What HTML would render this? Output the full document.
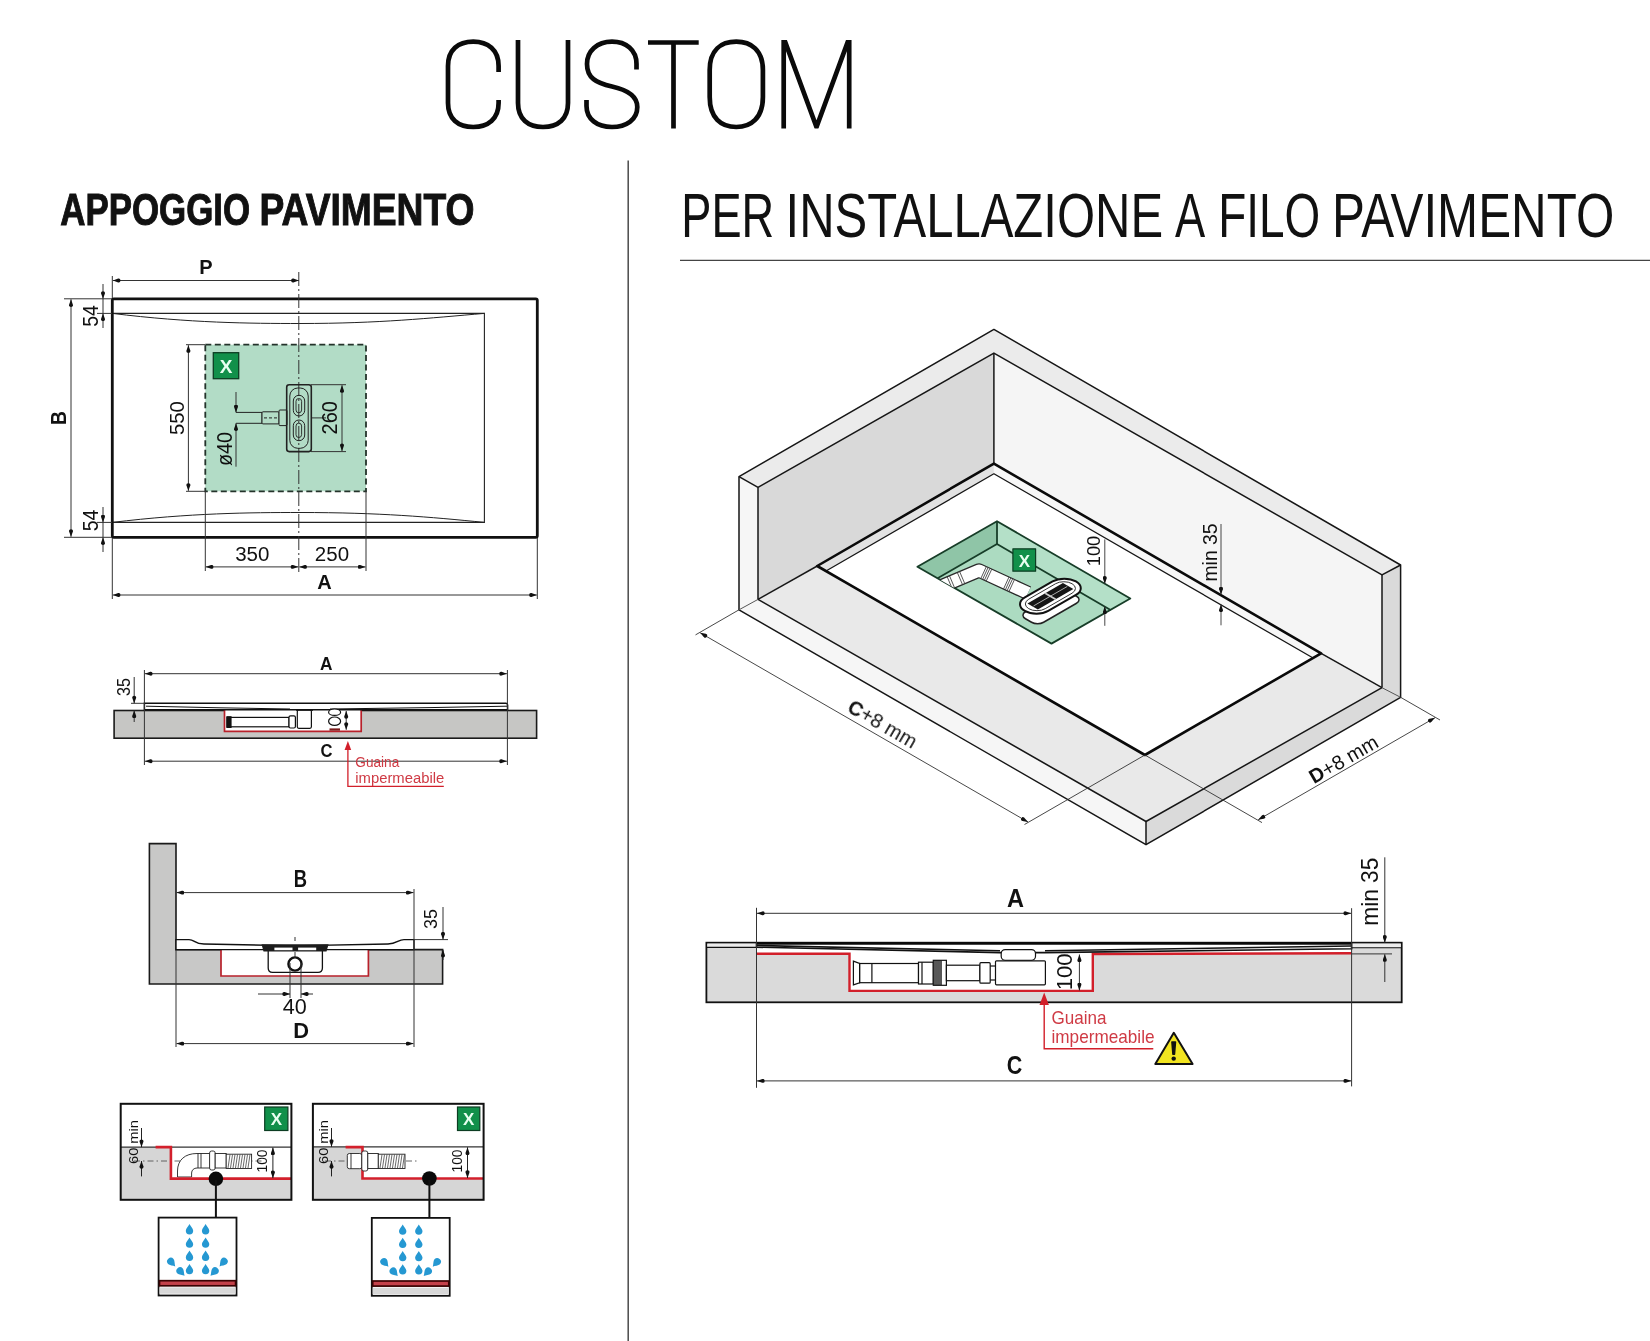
<!DOCTYPE html>
<html><head><meta charset="utf-8"><style>
html,body{margin:0;padding:0;background:#fff;}
body{width:1650px;height:1341px;overflow:hidden;}
svg{display:block;font-family:"Liberation Sans",sans-serif;will-change:transform;}
</style></head><body>
<svg width="1650" height="1341" viewBox="0 0 1650 1341">
<defs>
<marker id="ar" viewBox="0 0 10 6" refX="10" refY="3" markerWidth="8" markerHeight="4.6" markerUnits="userSpaceOnUse" orient="auto-start-reverse"><path d="M10,3 L3,0.5 Q0,0 0,3 Q0,6 3,5.5 Z" fill="#111"/></marker>
<marker id="arR" viewBox="0 0 10 6" refX="10" refY="3" markerWidth="9" markerHeight="6" markerUnits="userSpaceOnUse" orient="auto-start-reverse"><path d="M0,0 L10,3 L0,6 z" fill="#d21f2a"/></marker>
<clipPath id="recclip"><polygon points="997,521.2 1130.3,598.5 1051.5,643.6 917.4,566.7"/></clipPath>
<clipPath id="mclip"><rect x="770" y="40" width="100" height="88.4"/></clipPath>
</defs>

<!-- CUSTOM title -->
<g fill="none" stroke="#0a0a0a" stroke-width="4.7">
<path d="M498.6,72 L498.6,66 C498.6,50 488,41.7 473.3,41.7 C458,41.7 448,50 448,66 L448,103 C448,119 458,127 473.3,127 C488,127 498.6,119 498.6,103 L498.6,100"/>
<path d="M518,40 L518,103 C518,119 528,127 543,127 C558,127 568,119 568,103 L568,40"/>
<path d="M636.5,69.5 L636.5,64 C636.5,50 626,41.7 612,41.7 C597,41.7 587,51 587,64 C587,78 596,83 612,86.5 C628,90 637.3,96 637.3,107 C637.3,120 626,127 612,127 C597,127 586.5,119 586.5,106 L586.5,100"/>
<path d="M648,42.5 L698.7,42.5 M673.5,42.5 L673.5,128.4"/>
<path d="M736.3,41.7 C751,41.7 762.9,50 762.9,70 L762.9,97 C762.9,118 751,127 736.3,127 C721,127 709.7,118 709.7,97 L709.7,70 C709.7,50 721,41.7 736.3,41.7 Z"/>
<path clip-path="url(#mclip)" stroke-linejoin="miter" stroke-miterlimit="20" d="M783.7,129 L783.7,38 L816.5,127 L849.2,38 L849.2,129"/>
</g>

<!-- divider -->
<line x1="628.2" y1="160.5" x2="628.2" y2="1341" stroke="#4a4a4a" stroke-width="1.5"/>

<!-- left heading -->
<g font-size="44.8" font-weight="bold" fill="#111" stroke="#111" stroke-width="1" ><text x="60.23" y="224.9" textLength="189.93" lengthAdjust="spacingAndGlyphs">APPOGGIO</text><text x="259.48" y="224.9" textLength="215.04" lengthAdjust="spacingAndGlyphs">PAVIMENTO</text></g>

<!-- right heading -->
<g font-size="62.8" fill="#111" ><text x="681.3" y="236.7" textLength="92.8" lengthAdjust="spacingAndGlyphs">PER</text><text x="785.52" y="236.7" textLength="377.56" lengthAdjust="spacingAndGlyphs">INSTALLAZIONE</text><text x="1174.91" y="236.7" textLength="30.18" lengthAdjust="spacingAndGlyphs">A</text><text x="1218.24" y="236.7" textLength="101.96" lengthAdjust="spacingAndGlyphs">FILO</text><text x="1332.07" y="236.7" textLength="282.22" lengthAdjust="spacingAndGlyphs">PAVIMENTO</text></g>
<line x1="680" y1="260.3" x2="1650" y2="260.3" stroke="#444" stroke-width="1.3"/>


<!-- ============ PLAN VIEW ============ -->
<g id="plan">
<rect x="205.3" y="344.7" width="160.7" height="146.6" fill="#b2dcc6"/>
<path d="M112.3,313.4 C190,323 250,323.5 300,323.5 C380,323.5 430,318 484.4,313.4" fill="none" stroke="#222" stroke-width="1"/>
<path d="M112.3,522.4 C190,513 250,512.5 300,512.5 C380,512.5 430,517 484.4,522.4" fill="none" stroke="#222" stroke-width="1"/>
<path d="M112.3,313.4 L484.4,313.4 L484.4,522.4 L112.3,522.4" fill="none" stroke="#222" stroke-width="1.1"/>
<rect x="205.3" y="344.7" width="160.7" height="146.6" fill="none" stroke="#24332b" stroke-width="1.8" stroke-dasharray="6 3.5"/>
<rect x="112.3" y="298.8" width="425" height="238.5" rx="1.5" fill="none" stroke="#111" stroke-width="2.8"/>
<!-- centerline -->
<line x1="298.8" y1="272" x2="298.8" y2="572" stroke="#333" stroke-width="1" stroke-dasharray="14 3 2 3"/>
<g stroke="#333" stroke-width="1" fill="none">
<!-- P -->
<line x1="112.3" y1="276" x2="112.3" y2="298"/>
<line x1="112.8" y1="280.5" x2="298.8" y2="280.5" marker-start="url(#ar)" marker-end="url(#ar)"/>
<!-- B -->
<line x1="64" y1="298.8" x2="112" y2="298.8"/>
<line x1="64" y1="537.3" x2="112" y2="537.3"/>
<line x1="71" y1="299.3" x2="71" y2="536.8" marker-start="url(#ar)" marker-end="url(#ar)"/>
<!-- 54 top -->
<line x1="97" y1="313.4" x2="112" y2="313.4"/>
<line x1="103" y1="284" x2="103" y2="298.8" marker-end="url(#ar)"/>
<line x1="103" y1="328" x2="103" y2="313.4" marker-end="url(#ar)"/>
<line x1="103" y1="298.8" x2="103" y2="313.4"/>
<!-- 54 bottom -->
<line x1="97" y1="522.4" x2="112" y2="522.4"/>
<line x1="103" y1="507" x2="103" y2="522.4" marker-end="url(#ar)"/>
<line x1="103" y1="552" x2="103" y2="537.3" marker-end="url(#ar)"/>
<line x1="103" y1="522.4" x2="103" y2="537.3"/>
<!-- 550 -->
<line x1="186" y1="344.7" x2="205" y2="344.7"/>
<line x1="186" y1="491.3" x2="205" y2="491.3"/>
<line x1="188.4" y1="345.2" x2="188.4" y2="490.8" marker-start="url(#ar)" marker-end="url(#ar)"/>
<!-- 260 -->
<line x1="311" y1="384.7" x2="346" y2="384.7"/>
<line x1="311" y1="451.6" x2="346" y2="451.6"/>
<line x1="342" y1="385.2" x2="342" y2="451.1" marker-start="url(#ar)" marker-end="url(#ar)"/>
<!-- ø40 -->
<line x1="236" y1="392" x2="236" y2="412.4" marker-end="url(#ar)"/>
<line x1="236" y1="466.7" x2="236" y2="423.3" marker-end="url(#ar)"/>
<!-- 350 / 250 -->
<line x1="205.3" y1="491" x2="205.3" y2="571"/>
<line x1="366" y1="491" x2="366" y2="571"/>
<line x1="205.8" y1="566.9" x2="298.3" y2="566.9" marker-start="url(#ar)" marker-end="url(#ar)"/>
<line x1="299.3" y1="566.9" x2="365.5" y2="566.9" marker-start="url(#ar)" marker-end="url(#ar)"/>
<!-- A -->
<line x1="112.3" y1="538" x2="112.3" y2="599"/>
<line x1="537.3" y1="538" x2="537.3" y2="599"/>
<line x1="112.8" y1="595" x2="536.8" y2="595" marker-start="url(#ar)" marker-end="url(#ar)"/>
</g>
<!-- pipe -->
<g stroke="#222" stroke-width="1" fill="#b2dcc6">
<path d="M236,412.4 L262,412.4 L262,423.3 L236,423.3"/>
<rect x="262" y="411.8" width="17" height="12.1" rx="1"/>
<rect x="279" y="410" width="8" height="15.6" rx="1"/>
<line x1="264" y1="417.9" x2="278" y2="417.9" stroke-dasharray="3 2"/>
</g>
<!-- drain -->
<g stroke="#222" fill="none">
<rect x="286.7" y="384.7" width="24.6" height="66.9" rx="2.5" stroke-width="1.6"/>
<rect x="289.8" y="388" width="18.4" height="60.3" rx="8" stroke-width="1"/>
<rect x="293.3" y="395.3" width="11.4" height="20.7" rx="5.7" stroke-width="1"/>
<rect x="293.3" y="420" width="11.4" height="20.7" rx="5.7" stroke-width="1"/>
<rect x="296" y="398.5" width="5.6" height="14.3" rx="2.8" stroke-width="0.9"/>
<rect x="296" y="423.2" width="5.6" height="14.3" rx="2.8" stroke-width="0.9"/>
<line x1="311" y1="417.9" x2="326" y2="417.9" stroke-width="0.9"/>
</g>
<!-- X box -->
<rect x="213.3" y="352.7" width="25.4" height="26" fill="#11904a" stroke="#0c3d22" stroke-width="1.3"/>
<text x="226" y="372.5" font-size="19" font-weight="bold" fill="#e8fff0" text-anchor="middle">X</text>
<!-- texts -->
<g fill="#111" font-size="20" text-anchor="middle">
<text x="206" y="273.8" font-weight="bold">P</text>
<text x="324.5" y="589" font-weight="bold">A</text>
<text transform="translate(65.6,417.9) rotate(-90)" font-weight="bold" font-size="22.5" textLength="14" lengthAdjust="spacingAndGlyphs">B</text>
<text x="252.3" y="560.8" font-size="20.5" textLength="34.3">350</text>
<text x="332" y="560.8" font-size="20.5" textLength="34.3">250</text>
<text transform="translate(184,418.2) rotate(-90)" font-size="21" textLength="33.7" lengthAdjust="spacingAndGlyphs">550</text>
<text transform="translate(337,417.8) rotate(-90)" font-size="21.3" textLength="33.4" lengthAdjust="spacingAndGlyphs">260</text>
<text transform="translate(232.2,449) rotate(-90)" font-size="22" textLength="34" lengthAdjust="spacingAndGlyphs">ø40</text>
<text transform="translate(98,316) rotate(-90)" font-size="21.5" textLength="21.7" lengthAdjust="spacingAndGlyphs">54</text>
<text transform="translate(98,520.4) rotate(-90)" font-size="21.5" textLength="21.7" lengthAdjust="spacingAndGlyphs">54</text>
</g>
</g>


<!-- ============ SECTION A/C ============ -->
<g id="secAC">
<rect x="114.1" y="710.5" width="422.5" height="27.7" fill="#c6c6c4" stroke="#1a1a1a" stroke-width="1.6"/>
<rect x="224.5" y="709.8" width="136.7" height="21.5" fill="#fff"/>
<path d="M224.5,709.5 L224.5,731.3 L361.2,731.3 L361.2,709.5" fill="none" stroke="#b8212b" stroke-width="1.7"/>
<!-- tray -->
<path d="M144.4,703.3 L506,703.3 Q507.6,703.4 507.6,705 L507.6,709.8 L144.4,709.8 Z" fill="#fff" stroke="#111" stroke-width="1.5"/>
<path d="M146,706.2 L220,707.8 L290,709 M507,706.2 L430,707.6 L330,709" fill="none" stroke="#111" stroke-width="1"/>
<!-- pipe -->
<g stroke="#111" fill="#fff" stroke-width="1.2">
<rect x="227" y="717.4" width="62" height="9.4"/>
<rect x="227" y="716.8" width="4" height="10.6" fill="#111"/>
<rect x="289" y="715.8" width="6.4" height="12.2" rx="1.5"/>
<rect x="297.3" y="710" width="14.1" height="18.3" rx="1.5"/>
<path d="M296,710 L313,710" stroke-width="1.6"/>
<ellipse cx="334.6" cy="712.2" rx="6" ry="3.2"/>
<ellipse cx="334.6" cy="721.2" rx="6" ry="4.2"/>
</g>
<rect x="329.5" y="728.4" width="10.5" height="2.2" fill="#7a1a1a"/>
<g stroke="#333" stroke-width="1" fill="none">
<line x1="144.4" y1="670" x2="144.4" y2="765"/>
<line x1="507.4" y1="670" x2="507.4" y2="765"/>
<line x1="144.9" y1="673.7" x2="506.9" y2="673.7" marker-start="url(#ar)" marker-end="url(#ar)"/>
<line x1="144.9" y1="761.2" x2="506.9" y2="761.2" marker-start="url(#ar)" marker-end="url(#ar)"/>
<!-- 35 -->
<line x1="131" y1="703.3" x2="144" y2="703.3"/>
<line x1="134.2" y1="677" x2="134.2" y2="703.3" marker-end="url(#ar)"/>
<line x1="134.2" y1="722" x2="134.2" y2="710.5" marker-end="url(#ar)"/>
<!-- 100 -->
<line x1="346.2" y1="711" x2="346.2" y2="729.8" marker-start="url(#ar)" marker-end="url(#ar)"/>
</g>
<g fill="#111" font-size="20" text-anchor="middle">
<text x="326.2" y="670.3" font-weight="bold" font-size="18.5" textLength="12.5" lengthAdjust="spacingAndGlyphs">A</text>
<text x="326.5" y="757.4" font-weight="bold" font-size="19" textLength="12" lengthAdjust="spacingAndGlyphs">C</text>
<text transform="translate(130,687) rotate(-90)" font-size="19" textLength="18" lengthAdjust="spacingAndGlyphs">35</text>
</g>
<!-- guaina -->
<path d="M347.9,748 L347.9,786.4 L443.8,786.4" fill="none" stroke="#d21f2a" stroke-width="1.3"/>
<path d="M347.9,741 L344.6,750 L351.2,750 Z" fill="#d21f2a"/>
<g fill="#cf3a44" font-size="15.5">
<text x="355.3" y="767" textLength="44" lengthAdjust="spacingAndGlyphs">Guaina</text>
<text x="355.3" y="783" textLength="89" lengthAdjust="spacingAndGlyphs">impermeabile</text>
</g>
</g>

<!-- ============ SECTION B/D ============ -->
<g id="secBD">
<path d="M149.4,843.6 L176,843.6 L176,949.6 L442.6,949.6 L442.6,984 L149.4,984 Z" fill="#c8c8c7" stroke="#1a1a1a" stroke-width="1.6"/>
<rect x="221" y="949.6" width="147.4" height="26.4" fill="#fff"/>
<path d="M221,949.6 L221,976 L368.4,976 L368.4,949.6" fill="none" stroke="#b8212b" stroke-width="1.7"/>
<path d="M176,939.6 L189,939.6 C195,939.6 194,944 204,944 L286,945.6 L304,945.6 L388,944 C397,944 398,939.6 404,939.6 L414,939.6 L414,949.6 L176,949.6 Z" fill="#fff" stroke="#111" stroke-width="1.4"/>
<!-- drain -->
<path d="M268.2,950 L268.2,968 Q268.2,972.3 272.5,972.3 L318,972.3 Q322.4,972.3 322.4,968 L322.4,950" fill="#fff" stroke="#111" stroke-width="1.3"/>
<path d="M261.5,944.3 L328.6,944.3 L326.5,951.5 L263.5,951.5 Z" fill="#1c1c1c"/>
<rect x="274.4" y="947.6" width="18.1" height="2.6" fill="#fff"/>
<rect x="298.1" y="947.6" width="18.1" height="2.6" fill="#fff"/>
<circle cx="295" cy="964" r="6.6" fill="#fff" stroke="#111" stroke-width="2.4"/>
<g stroke="#333" stroke-width="1" fill="none">
<line x1="295" y1="937" x2="295" y2="941"/><line x1="295" y1="952" x2="295" y2="958"/>
<line x1="290" y1="963" x2="290" y2="998"/>
<line x1="301" y1="963" x2="301" y2="998"/>
<line x1="258" y1="994" x2="290" y2="994" marker-end="url(#ar)"/>
<line x1="313" y1="994" x2="301" y2="994" marker-end="url(#ar)"/>
<line x1="414" y1="889" x2="414" y2="1047"/>
<line x1="176" y1="950" x2="176" y2="1047"/>
<line x1="176.5" y1="892.6" x2="413.5" y2="892.6" marker-start="url(#ar)" marker-end="url(#ar)"/>
<line x1="176.5" y1="1043.6" x2="413.5" y2="1043.6" marker-start="url(#ar)" marker-end="url(#ar)"/>
<line x1="414" y1="939.6" x2="448" y2="939.6"/>
<line x1="443" y1="907" x2="443" y2="939.6" marker-end="url(#ar)"/>
<line x1="443" y1="960" x2="443" y2="949.8" marker-end="url(#ar)"/>
</g>
<g fill="#111" font-size="20" text-anchor="middle">
<text x="300.5" y="887.4" font-weight="bold" font-size="23" textLength="13.3" lengthAdjust="spacingAndGlyphs">B</text>
<text x="301.1" y="1038.4" font-weight="bold" font-size="22.5" textLength="15.8" lengthAdjust="spacingAndGlyphs">D</text>
<text x="294.7" y="1013.5" font-size="21.5" textLength="24" lengthAdjust="spacingAndGlyphs">40</text>
<text transform="translate(437,919) rotate(-90)" font-size="19" textLength="20" lengthAdjust="spacingAndGlyphs">35</text>
</g>
</g>


<!-- ============ SMALL DIAGRAMS ============ -->
<g id="small1">
<rect x="120.7" y="1103.8" width="170.7" height="96" fill="#fff"/>
<path d="M120.7,1147.1 L170.9,1147.1 L170.9,1178.6 L291.4,1178.6 L291.4,1199.8 L120.7,1199.8 Z" fill="#d6d6d6"/>
<line x1="120.7" y1="1147.1" x2="291.4" y2="1147.1" stroke="#333" stroke-width="1.3"/>
<line x1="134" y1="1161" x2="262" y2="1161" stroke="#555" stroke-width="0.9" stroke-dasharray="6 3 1.5 3"/>
<!-- elbow fitting -->
<g stroke="#222" stroke-width="0.9" fill="#fff">
<path d="M177.5,1177 L177.5,1171 C177.5,1160 185,1153.5 197,1153.5 L210,1153.5 L210,1168 L197,1168 C194,1168 191.6,1170 191.6,1173 L191.6,1177 Z"/>
<line x1="198" y1="1153.5" x2="198" y2="1168"/>
<line x1="201" y1="1153.5" x2="201" y2="1168"/>
<rect x="209.6" y="1151" width="5.6" height="19" rx="2"/>
<rect x="215.2" y="1153.5" width="11" height="14.5"/>
<rect x="226.2" y="1154.2" width="25.4" height="14.3" fill="#fff"/>
</g>
<g stroke="#444" stroke-width="0.8">
<path d="M228,1168 L230,1154.5 M230.5,1168 L232.5,1154.5 M233,1168 L235,1154.5 M235.5,1168 L237.5,1154.5 M238,1168 L240,1154.5 M240.5,1168 L242.5,1154.5 M243,1168 L245,1154.5 M245.5,1168 L247.5,1154.5 M248,1168 L250,1154.5"/>
</g>
<path d="M155.6,1147.1 L170.9,1147.1 L170.9,1178.6 L291.4,1178.6" fill="none" stroke="#d3202c" stroke-width="2.6"/>
<rect x="120.7" y="1103.8" width="170.7" height="96" fill="none" stroke="#111" stroke-width="2"/>
<rect x="264.7" y="1107" width="23.2" height="23.5" fill="#11904a" stroke="#0c3d22" stroke-width="1.2"/>
<text x="276.3" y="1125" font-size="17" font-weight="bold" fill="#e8fff0" text-anchor="middle">X</text>
<circle cx="215.9" cy="1178.8" r="7.3" fill="#0a0a0a"/>
<line x1="215.9" y1="1180" x2="215.9" y2="1218" stroke="#111" stroke-width="2"/>
<g stroke="#222" stroke-width="1" fill="none">
<line x1="141.5" y1="1128" x2="141.5" y2="1147.1" marker-end="url(#ar)"/>
<line x1="141.5" y1="1176.4" x2="141.5" y2="1161" marker-end="url(#ar)"/>
<line x1="272.9" y1="1147.6" x2="272.9" y2="1178.1" marker-start="url(#ar)" marker-end="url(#ar)"/>
</g>
<g fill="#111" text-anchor="middle">
<text transform="translate(137.6,1142) rotate(-90)" font-size="13" textLength="44" lengthAdjust="spacingAndGlyphs">60 min</text>
<text transform="translate(267.2,1161) rotate(-90)" font-size="14" textLength="23" lengthAdjust="spacingAndGlyphs">100</text>
</g>
</g>
<g id="small2">
<rect x="312.9" y="1103.8" width="170.7" height="96" fill="#fff"/>
<path d="M312.9,1147.1 L362.5,1147.1 L362.5,1178.5 L483.6,1178.5 L483.6,1199.8 L312.9,1199.8 Z" fill="#d6d6d6"/>
<line x1="312.9" y1="1146.8" x2="483.6" y2="1146.8" stroke="#333" stroke-width="1.3"/>
<line x1="325" y1="1161" x2="418" y2="1161" stroke="#555" stroke-width="0.9" stroke-dasharray="6 3 1.5 3"/>
<path d="M345.6,1147.1 L362.5,1147.1 L362.5,1178.5 L483.6,1178.5" fill="none" stroke="#d3202c" stroke-width="2.6"/>
<g stroke="#222" stroke-width="0.9" fill="#fff">
<rect x="347.3" y="1153.5" width="14.5" height="15.2" rx="2"/>
<line x1="351" y1="1153.5" x2="351" y2="1168.7"/>
<rect x="361.8" y="1151" width="6" height="20" rx="2"/>
<rect x="367.8" y="1153.5" width="10.5" height="15"/>
<rect x="378.3" y="1154.2" width="26.7" height="14.3"/>
</g>
<g stroke="#444" stroke-width="0.8">
<path d="M380,1168 L382,1154.5 M382.5,1168 L384.5,1154.5 M385,1168 L387,1154.5 M387.5,1168 L389.5,1154.5 M390,1168 L392,1154.5 M392.5,1168 L394.5,1154.5 M395,1168 L397,1154.5 M397.5,1168 L399.5,1154.5 M400,1168 L402,1154.5 M402.5,1168 L404.5,1154.5"/>
</g>

<rect x="312.9" y="1103.8" width="170.7" height="96" fill="none" stroke="#111" stroke-width="2"/>
<rect x="457.5" y="1107" width="22.3" height="23.5" fill="#11904a" stroke="#0c3d22" stroke-width="1.2"/>
<text x="468.6" y="1125" font-size="17" font-weight="bold" fill="#e8fff0" text-anchor="middle">X</text>
<circle cx="429.4" cy="1178.5" r="7.3" fill="#0a0a0a"/>
<line x1="429.4" y1="1180" x2="429.4" y2="1218" stroke="#111" stroke-width="2"/>
<g stroke="#222" stroke-width="1" fill="none">
<line x1="331.5" y1="1128" x2="331.5" y2="1146.8" marker-end="url(#ar)"/>
<line x1="331.5" y1="1176.4" x2="331.5" y2="1161" marker-end="url(#ar)"/>
<line x1="467.5" y1="1147.3" x2="467.5" y2="1178" marker-start="url(#ar)" marker-end="url(#ar)"/>
</g>
<g fill="#111" text-anchor="middle">
<text transform="translate(327.6,1142) rotate(-90)" font-size="13" textLength="44" lengthAdjust="spacingAndGlyphs">60 min</text>
<text transform="translate(462,1161) rotate(-90)" font-size="14" textLength="23" lengthAdjust="spacingAndGlyphs">100</text>
</g>
</g>
<g transform="translate(158.6,1217.6)">
<g fill="#fff">
<rect x="0" y="0" width="77.9" height="77.9" fill="#fff" stroke="#111" stroke-width="1.8"/>
<g fill="#2598d2"><path transform="translate(30.9,13.1) rotate(0)" d="M0,-6.6 C0.8,-4.6 3.7,-2 3.7,0 A3.7,3.7 0 1 1 -3.7,0 C-3.7,-2 -0.8,-4.6 0,-6.6 Z"/>
<path transform="translate(30.9,26.4) rotate(0)" d="M0,-6.6 C0.8,-4.6 3.7,-2 3.7,0 A3.7,3.7 0 1 1 -3.7,0 C-3.7,-2 -0.8,-4.6 0,-6.6 Z"/>
<path transform="translate(30.9,39.6) rotate(0)" d="M0,-6.6 C0.8,-4.6 3.7,-2 3.7,0 A3.7,3.7 0 1 1 -3.7,0 C-3.7,-2 -0.8,-4.6 0,-6.6 Z"/>
<path transform="translate(30.9,52.9) rotate(0)" d="M0,-6.6 C0.8,-4.6 3.7,-2 3.7,0 A3.7,3.7 0 1 1 -3.7,0 C-3.7,-2 -0.8,-4.6 0,-6.6 Z"/>
<path transform="translate(47.0,13.1) rotate(0)" d="M0,-6.6 C0.8,-4.6 3.7,-2 3.7,0 A3.7,3.7 0 1 1 -3.7,0 C-3.7,-2 -0.8,-4.6 0,-6.6 Z"/>
<path transform="translate(47.0,26.4) rotate(0)" d="M0,-6.6 C0.8,-4.6 3.7,-2 3.7,0 A3.7,3.7 0 1 1 -3.7,0 C-3.7,-2 -0.8,-4.6 0,-6.6 Z"/>
<path transform="translate(47.0,39.6) rotate(0)" d="M0,-6.6 C0.8,-4.6 3.7,-2 3.7,0 A3.7,3.7 0 1 1 -3.7,0 C-3.7,-2 -0.8,-4.6 0,-6.6 Z"/>
<path transform="translate(47.0,52.9) rotate(0)" d="M0,-6.6 C0.8,-4.6 3.7,-2 3.7,0 A3.7,3.7 0 1 1 -3.7,0 C-3.7,-2 -0.8,-4.6 0,-6.6 Z"/>
<path transform="translate(12.2,43.9) rotate(138)" d="M0,-6.6 C0.8,-4.6 3.7,-2 3.7,0 A3.7,3.7 0 1 1 -3.7,0 C-3.7,-2 -0.8,-4.6 0,-6.6 Z"/>
<path transform="translate(21.5,53.3) rotate(137)" d="M0,-6.6 C0.8,-4.6 3.7,-2 3.7,0 A3.7,3.7 0 1 1 -3.7,0 C-3.7,-2 -0.8,-4.6 0,-6.6 Z"/>
<path transform="translate(65.4,43.9) rotate(-138)" d="M0,-6.6 C0.8,-4.6 3.7,-2 3.7,0 A3.7,3.7 0 1 1 -3.7,0 C-3.7,-2 -0.8,-4.6 0,-6.6 Z"/>
<path transform="translate(56.4,53.3) rotate(-137)" d="M0,-6.6 C0.8,-4.6 3.7,-2 3.7,0 A3.7,3.7 0 1 1 -3.7,0 C-3.7,-2 -0.8,-4.6 0,-6.6 Z"/></g>
<rect x="0.9" y="63.1" width="76.1" height="5.1" fill="#c4414a" stroke="#3a0202" stroke-width="1.7"/>
<rect x="0.9" y="69.8" width="76.1" height="6.3" fill="#d8d8d8"/>
</g></g>
<g transform="translate(371.8,1217.9)">
<g fill="#fff">
<rect x="0" y="0" width="77.9" height="77.9" fill="#fff" stroke="#111" stroke-width="1.8"/>
<g fill="#2598d2"><path transform="translate(30.9,13.1) rotate(0)" d="M0,-6.6 C0.8,-4.6 3.7,-2 3.7,0 A3.7,3.7 0 1 1 -3.7,0 C-3.7,-2 -0.8,-4.6 0,-6.6 Z"/>
<path transform="translate(30.9,26.4) rotate(0)" d="M0,-6.6 C0.8,-4.6 3.7,-2 3.7,0 A3.7,3.7 0 1 1 -3.7,0 C-3.7,-2 -0.8,-4.6 0,-6.6 Z"/>
<path transform="translate(30.9,39.6) rotate(0)" d="M0,-6.6 C0.8,-4.6 3.7,-2 3.7,0 A3.7,3.7 0 1 1 -3.7,0 C-3.7,-2 -0.8,-4.6 0,-6.6 Z"/>
<path transform="translate(30.9,52.9) rotate(0)" d="M0,-6.6 C0.8,-4.6 3.7,-2 3.7,0 A3.7,3.7 0 1 1 -3.7,0 C-3.7,-2 -0.8,-4.6 0,-6.6 Z"/>
<path transform="translate(47.0,13.1) rotate(0)" d="M0,-6.6 C0.8,-4.6 3.7,-2 3.7,0 A3.7,3.7 0 1 1 -3.7,0 C-3.7,-2 -0.8,-4.6 0,-6.6 Z"/>
<path transform="translate(47.0,26.4) rotate(0)" d="M0,-6.6 C0.8,-4.6 3.7,-2 3.7,0 A3.7,3.7 0 1 1 -3.7,0 C-3.7,-2 -0.8,-4.6 0,-6.6 Z"/>
<path transform="translate(47.0,39.6) rotate(0)" d="M0,-6.6 C0.8,-4.6 3.7,-2 3.7,0 A3.7,3.7 0 1 1 -3.7,0 C-3.7,-2 -0.8,-4.6 0,-6.6 Z"/>
<path transform="translate(47.0,52.9) rotate(0)" d="M0,-6.6 C0.8,-4.6 3.7,-2 3.7,0 A3.7,3.7 0 1 1 -3.7,0 C-3.7,-2 -0.8,-4.6 0,-6.6 Z"/>
<path transform="translate(12.2,43.9) rotate(138)" d="M0,-6.6 C0.8,-4.6 3.7,-2 3.7,0 A3.7,3.7 0 1 1 -3.7,0 C-3.7,-2 -0.8,-4.6 0,-6.6 Z"/>
<path transform="translate(21.5,53.3) rotate(137)" d="M0,-6.6 C0.8,-4.6 3.7,-2 3.7,0 A3.7,3.7 0 1 1 -3.7,0 C-3.7,-2 -0.8,-4.6 0,-6.6 Z"/>
<path transform="translate(65.4,43.9) rotate(-138)" d="M0,-6.6 C0.8,-4.6 3.7,-2 3.7,0 A3.7,3.7 0 1 1 -3.7,0 C-3.7,-2 -0.8,-4.6 0,-6.6 Z"/>
<path transform="translate(56.4,53.3) rotate(-137)" d="M0,-6.6 C0.8,-4.6 3.7,-2 3.7,0 A3.7,3.7 0 1 1 -3.7,0 C-3.7,-2 -0.8,-4.6 0,-6.6 Z"/></g>
<rect x="0.9" y="63.1" width="76.1" height="5.1" fill="#c4414a" stroke="#3a0202" stroke-width="1.7"/>
<rect x="0.9" y="69.8" width="76.1" height="6.3" fill="#d8d8d8"/>
</g></g>


<!-- ============ ISOMETRIC ============ -->
<g id="iso" stroke-linejoin="round">
<!-- wall tops -->
<polygon points="993.9,329.4 1400.6,565 1382,574.8 993.9,353.1 758,487.4 739,476.6" fill="#ebebeb"/>
<!-- left end face + slab left face -->
<polygon points="739,476.6 758,487.4 758,599.4 1146,821.5 1146,844.7 739,609.8" fill="#f6f6f6"/>
<!-- right end face + slab right face -->
<polygon points="1382,574.8 1400.6,565 1400.6,697.3 1146,844.7 1146,821.5 1382,687.7" fill="#dadada"/>
<!-- left wall inner face -->
<polygon points="758,487.4 993.9,353.1 993.9,463.6 758,599.4" fill="#d9d9d9"/>
<!-- right wall inner face -->
<polygon points="993.9,353.1 1382,574.8 1382,687.7 993.9,463.6" fill="#f5f5f5"/>
<!-- slab top -->
<polygon points="758,599.4 993.9,463.6 1382,687.7 1146,821.5" fill="#e9e9e9"/>
<!-- tray -->
<polygon points="993.9,463.6 1321.1,653.3 1144.9,755 817.2,566" fill="#ffffff"/>
<!-- tray rim strips -->
<polygon points="817.2,566 993.9,463.6 993.9,473.8 826,571" fill="#e2e2e2"/>
<polygon points="993.9,463.6 1321.1,653.3 1313.1,658 993.9,473.8" fill="#f7f7f7"/>
<!-- green recess -->
<polygon points="997,521.2 1130.3,598.5 1051.5,643.6 917.4,566.7" fill="#acdbc1"/>
<polygon points="917.4,566.7 997,521.2 997,544 937.6,578.2" fill="#8fc5a7"/>
<polygon points="997,521.2 1130.3,598.5 1110.6,610 997,544" fill="#b4e0c8"/>
<g fill="none" stroke="#173d28" stroke-width="1.8">
<polygon points="997,521.2 1130.3,598.5 1051.5,643.6 917.4,566.7"/>
<polyline points="937.6,578.2 997,544 1110.6,610"/>
<line x1="997" y1="521.2" x2="997" y2="544"/>
</g>
<g clip-path="url(#recclip)">
<!-- pipe -->
<path d="M937,588.2 L947,584 L979,570.5 L1028,593" fill="none" stroke="#2a2a2a" stroke-width="14.5" stroke-linejoin="round"/>
<path d="M937,588.2 L947,584 L979,570.5 L1028,593" fill="none" stroke="#fff" stroke-width="12" stroke-linejoin="round"/>
<g stroke="#444" stroke-width="0.9" fill="none">
<path d="M947.2,576.8 L952.3,588.9 M949.5,575.8 L954.6,587.9 M957.3,572.5 L962.5,584.6 M959.6,571.5 L964.8,583.7"/>
<path d="M986.3,566.6 L980.8,578.6 M988.1,567.4 L982.6,579.4 M989.9,568.3 L984.4,580.3 M991.8,569.1 L986.2,581.1 M1009.0,577.0 L1003.5,589.0 M1010.8,577.9 L1005.3,589.9 M1012.7,578.7 L1007.1,590.7 M1014.5,579.5 L1009.0,591.5"/>
</g>
</g>
<!-- drain -->
<g transform="matrix(0.866,-0.5,0.866,0.5,1051,607.5)">
<rect x="-26" y="-10.5" width="52" height="21" rx="7" fill="#fff" stroke="#222" stroke-width="1.5" vector-effect="non-scaling-stroke"/>
</g>
<g transform="matrix(0.866,-0.5,0.866,0.5,1050.4,596.2)">
<rect x="-29.5" y="-13.5" width="59" height="27" rx="13.5" fill="#fff" stroke="#111" stroke-width="2" vector-effect="non-scaling-stroke"/>
<rect x="-25" y="-9.5" width="50" height="19" rx="9.5" fill="#fff" stroke="#333" stroke-width="1" vector-effect="non-scaling-stroke"/>
<rect x="-20.5" y="-6" width="41" height="12" fill="#151515"/>
<line x1="-19.5" y1="0" x2="19.5" y2="0" stroke="#aaa" stroke-width="1" vector-effect="non-scaling-stroke"/>
<line x1="0" y1="-6" x2="0" y2="6" stroke="#ccc" stroke-width="1.8" vector-effect="non-scaling-stroke"/>
</g>
<!-- X box -->
<rect x="1012.9" y="548.8" width="22.7" height="22.4" fill="#11904a" stroke="#0c3d22" stroke-width="1.2"/>
<text x="1024.3" y="566.5" font-size="17" font-weight="bold" fill="#e8fff0" text-anchor="middle">X</text>
<!-- outlines -->
<g fill="none" stroke="#161616" stroke-width="1.5">
<polygon points="993.9,329.4 1400.6,565 1400.6,697.3 1146,844.7 739,609.8 739,476.6"/>
<polyline points="739,476.6 758,487.4 993.9,353.1 1382,574.8 1400.6,565"/>
<line x1="758" y1="487.4" x2="758" y2="599.4"/>
<line x1="993.9" y1="353.1" x2="993.9" y2="463.6"/>
<line x1="1382" y1="574.8" x2="1382" y2="687.7"/>
<polyline points="758,599.4 817.2,566"/>
<polyline points="1321.1,653.3 1382,687.7"/>
<polyline points="758,599.4 1146,821.5 1382,687.7"/>
<line x1="1146" y1="821.5" x2="1146" y2="844.7"/>
<line x1="739" y1="609.8" x2="758" y2="599.4" stroke-width="1" stroke="#555"/>
<line x1="1382" y1="687.7" x2="1400.6" y2="697.3" stroke-width="1" stroke="#555"/>
<polyline points="826,571 993.9,473.8 1313.1,658" stroke-width="1.3"/>
</g>
<polygon points="993.9,463.6 1321.1,653.3 1144.9,755 817.2,566" fill="none" stroke="#0a0a0a" stroke-width="2.6"/>
<!-- dims -->
<g stroke="#333" stroke-width="0.9" fill="none">
<line x1="739" y1="609.8" x2="695.5" y2="634.9"/>
<line x1="1144.9" y1="755" x2="1024.5" y2="824.5"/>
<line x1="700.2" y1="632.8" x2="1028" y2="822" marker-start="url(#ar)" marker-end="url(#ar)"/>
<line x1="1144.9" y1="755" x2="1262" y2="822.6"/>
<line x1="1400.6" y1="697.3" x2="1440" y2="720"/>
<line x1="1258.2" y1="819.8" x2="1435" y2="717.7" marker-start="url(#ar)" marker-end="url(#ar)"/>
<line x1="1104.8" y1="539.4" x2="1104.8" y2="583.7" marker-end="url(#ar)"/>
<line x1="1104.8" y1="625.8" x2="1104.8" y2="606.5" marker-end="url(#ar)"/>
<line x1="1221" y1="524" x2="1221" y2="594.5" marker-end="url(#ar)"/>
<line x1="1221" y1="625.3" x2="1221" y2="604.4" marker-end="url(#ar)"/>
</g>
<g fill="#111" font-size="20">
<text transform="translate(1100.3,551) rotate(-90)" font-size="18.7" text-anchor="middle" textLength="30.5" lengthAdjust="spacingAndGlyphs">100</text>
<text transform="translate(1216.5,552.5) rotate(-90)" font-size="19.5" text-anchor="middle" textLength="58" lengthAdjust="spacingAndGlyphs">min 35</text>
<text transform="translate(879,730) rotate(30)" text-anchor="middle" font-size="20"><tspan font-weight="bold">C</tspan>+8 mm</text>
<text transform="translate(1347,765.3) rotate(-30)" text-anchor="middle" font-size="20"><tspan font-weight="bold">D</tspan>+8 mm</text>
</g>
</g>

<!-- ============ RIGHT SECTION ============ -->
<g id="secR">
<rect x="706.4" y="942.7" width="695.3" height="59.6" fill="#dadada" stroke="#111" stroke-width="1.8"/>
<rect x="707.3" y="943.6" width="49.2" height="3.8" fill="#ececec"/>
<line x1="706.4" y1="947.4" x2="756.5" y2="947.4" stroke="#111" stroke-width="1.1"/>
<rect x="1351.6" y="943.6" width="49.2" height="4.1" fill="#ececec"/>
<line x1="1351.6" y1="947.7" x2="1401" y2="947.7" stroke="#111" stroke-width="1.1"/>
<!-- recess white -->
<path d="M756.5,946 L1351.6,946 L1351.6,953.5 L1092.8,954 L1092.8,990.9 L849.5,990.9 L849.5,953.7 L756.5,953.7 Z" fill="#fff"/>
<path d="M756.5,953.7 L849.5,953.7 L849.5,990.9 L1092.8,990.9 L1092.8,954 L1351.6,953.3" fill="none" stroke="#d21f2a" stroke-width="2.4"/>
<!-- tray -->
<path d="M756.5,943 L1351.6,943 L1351.6,948.7 L1045,952.6 L1000,952.6 L756.5,947.2 Z" fill="#fff" stroke="#111" stroke-width="1.6"/>
<line x1="756.5" y1="943.4" x2="1351.6" y2="943.4" stroke="#0a0a0a" stroke-width="2.6"/>
<path d="M757,945.5 L1000,950.8 M1351,946 L1045,950.8" fill="none" stroke="#111" stroke-width="1.6"/>
<!-- pipe -->
<g stroke="#111" stroke-width="1.2" fill="#fff">
<rect x="1001.2" y="949.6" width="34.3" height="10.7" rx="4"/>
<rect x="859.6" y="963.5" width="58.9" height="19.2"/>
<line x1="871.9" y1="963.5" x2="871.9" y2="982.7"/>
<path d="M853.4,961.1 L859.6,963.5 L859.6,982.7 L853.4,984.8 Z"/>
<rect x="918.5" y="962.2" width="14.8" height="21.8"/>
<line x1="922" y1="962.2" x2="922" y2="984"/>
<rect x="933.3" y="960.3" width="13.1" height="25"/>
<path d="M935,960.5 L935,985 M937,960.5 L937,985 M939,960.5 L939,985 M941,960.5 L941,985" stroke-width="1.4"/>
<rect x="946.4" y="965.2" width="33.5" height="15.5"/>
<rect x="979.9" y="962.7" width="10.3" height="20.5" rx="1"/>
<rect x="995.5" y="960.8" width="49.9" height="24" rx="1"/>
<line x1="990.2" y1="966" x2="995.5" y2="966"/>
<line x1="990.2" y1="980" x2="995.5" y2="980"/>
</g>
<g stroke="#333" stroke-width="1" fill="none">
<line x1="756.5" y1="907.8" x2="756.5" y2="1087.8"/>
<line x1="1351.6" y1="908.2" x2="1351.6" y2="1086.4"/>
<line x1="757" y1="913.3" x2="1351.1" y2="913.3" marker-start="url(#ar)" marker-end="url(#ar)"/>
<line x1="757" y1="1080.9" x2="1351.1" y2="1080.9" marker-start="url(#ar)" marker-end="url(#ar)"/>
<line x1="1384.8" y1="857.3" x2="1384.8" y2="942.7" marker-end="url(#ar)"/>
<line x1="1384.8" y1="982" x2="1384.8" y2="954.2" marker-end="url(#ar)"/>
<line x1="1352" y1="953.9" x2="1392" y2="953.9"/>
<line x1="1079.4" y1="954.5" x2="1079.4" y2="990.4" marker-start="url(#ar)" marker-end="url(#ar)"/>
</g>
<g fill="#111" font-size="20" text-anchor="middle">
<text x="1015.5" y="907.2" font-weight="bold" font-size="25.5" textLength="17" lengthAdjust="spacingAndGlyphs">A</text>
<text x="1014.5" y="1074.3" font-weight="bold" font-size="25.5" textLength="15.5" lengthAdjust="spacingAndGlyphs">C</text>
<text transform="translate(1378.3,891.7) rotate(-90)" font-size="24.5" textLength="68" lengthAdjust="spacingAndGlyphs">min 35</text>
<text transform="translate(1071.5,971.8) rotate(-90)" font-size="22" textLength="37" lengthAdjust="spacingAndGlyphs">100</text>
</g>
<path d="M1044.2,1002 L1044.2,1048.8 L1153.3,1048.8" fill="none" stroke="#d21f2a" stroke-width="1.4"/>
<path d="M1044.2,992.5 L1039.5,1005 L1048.9,1005 Z" fill="#d21f2a"/>
<g fill="#cf3a44" font-size="18.5">
<text x="1051.5" y="1024" textLength="55" lengthAdjust="spacingAndGlyphs">Guaina</text>
<text x="1051.5" y="1042.7" textLength="103" lengthAdjust="spacingAndGlyphs">impermeabile</text>
</g>
<path d="M1173.8,1032.8 L1192.6,1064 L1155.3,1064 Z" fill="#f2e420" stroke="#111" stroke-width="2" stroke-linejoin="round"/>
<path d="M1171.9,1042 L1175.5,1042 L1174.5,1054.3 L1172.9,1054.3 Z" fill="#111" stroke="#111" stroke-width="1.5" stroke-linejoin="round"/>
<circle cx="1173.7" cy="1058.6" r="2.2" fill="#111"/>
</g>

</svg>
</body></html>
